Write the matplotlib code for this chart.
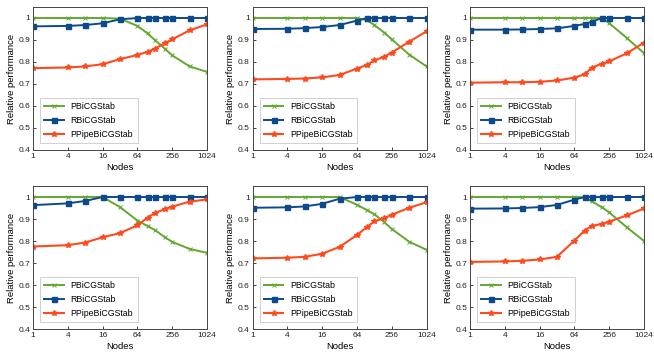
import matplotlib
matplotlib.use("Agg")
import matplotlib.pyplot as plt

plt.rcParams['font.family'] = ['Liberation Sans', 'DejaVu Sans']

nodes = [1, 4, 8, 16, 32, 64, 96, 128, 192, 256, 512, 1024]
xticks = [1, 4, 16, 64, 256, 1024]
xticklabels = ['1', '4', '16', '64', '256', '1024']
yticks = [0.4, 0.5, 0.6, 0.7, 0.8, 0.9, 1.0]
yticklabels = ['0.4', '0.5', '0.6', '0.7', '0.8', '0.9', '1']
labels = ['PBiCGStab', 'RBiCGStab', 'PPipeBiCGStab']

p_green = [
    [1, 1, 1, 1, 0.997, 0.964, 0.93, 0.90, 0.86, 0.83, 0.78, 0.755],
    [1, 1, 1, 1, 1, 1, 0.99, 0.968, 0.933, 0.903, 0.834, 0.78],
    [1, 1, 1, 1, 1, 1, 1, 1, 1, 0.976, 0.91, 0.84],
    [1, 1, 1, 1, 0.954, 0.893, 0.868, 0.85, 0.817, 0.796, 0.764, 0.746],
    [1, 1, 1, 1, 1, 0.965, 0.94, 0.922, 0.885, 0.855, 0.797, 0.76],
    [1, 1, 1, 1, 1, 1, 0.998, 0.98, 0.953, 0.93, 0.863, 0.80],
]
p_blue = [
    [0.962, 0.964, 0.968, 0.976, 0.994, 1, 1, 1, 1, 1, 1, 1],
    [0.95, 0.951, 0.954, 0.959, 0.968, 0.988, 1, 1, 1, 1, 1, 1],
    [0.947, 0.947, 0.948, 0.95, 0.953, 0.964, 0.973, 0.983, 1, 1, 1, 1],
    [0.963, 0.971, 0.982, 1, 1, 1, 1, 1, 1, 1, 1, 1],
    [0.951, 0.953, 0.957, 0.969, 0.992, 1, 1, 1, 1, 1, 1, 1],
    [0.947, 0.948, 0.95, 0.954, 0.964, 0.988, 1, 1, 1, 1, 1, 1],
]
p_red = [
    [0.772, 0.775, 0.78, 0.79, 0.813, 0.832, 0.846, 0.861, 0.885, 0.903, 0.944, 0.971],
    [0.721, 0.723, 0.725, 0.73, 0.741, 0.77, 0.787, 0.807, 0.825, 0.843, 0.892, 0.939],
    [0.706, 0.708, 0.708, 0.71, 0.716, 0.729, 0.744, 0.774, 0.793, 0.803, 0.839, 0.888],
    [0.775, 0.781, 0.793, 0.817, 0.836, 0.871, 0.906, 0.927, 0.945, 0.956, 0.979, 0.989],
    [0.721, 0.724, 0.728, 0.742, 0.773, 0.827, 0.864, 0.889, 0.905, 0.919, 0.951, 0.976],
    [0.705, 0.707, 0.71, 0.716, 0.728, 0.802, 0.847, 0.869, 0.877, 0.888, 0.916, 0.948],
]

green = '#62a830'
blue = '#0c4a8c'
red = '#ff4a1e'

fig = plt.figure(figsize=(6.54, 3.58), dpi=100)
lefts = [33/654, 252.5/654, 470/654]
bottoms = [1 - 150/358, 1 - 329/358]
w = 174/654
h = 143/358

for i in range(6):
    r, c = divmod(i, 3)
    ax = fig.add_axes([lefts[c], bottoms[r], w, h])
    ax.plot(nodes, p_green[i], color=green, marker='x', ms=3.2, mew=0.7, lw=1.4, label=labels[0])
    ax.plot(nodes, p_blue[i], color=blue, marker='s', ms=3.6, lw=1.4, label=labels[1])
    ax.plot(nodes, p_red[i], color=red, marker='*', ms=4.0, lw=1.5, label=labels[2])
    ax.set_xscale('log', base=2)
    ax.set_xlim(1, 1024)
    ax.set_ylim(0.4, 1.05)
    ax.set_xticks(xticks)
    ax.set_xticklabels(xticklabels)
    ax.minorticks_off()
    ax.set_yticks(yticks)
    ax.set_yticklabels(yticklabels)
    ax.tick_params(direction='in', labelsize=6.0, length=2.5, width=0.6, pad=2, colors='#222222')
    for s in ax.spines.values():
        s.set_linewidth(0.7)
        s.set_color('#444444')
    ax.set_xlabel('Nodes', fontsize=6.8, labelpad=2)
    ax.set_ylabel('Relative performance', fontsize=6.8, labelpad=2)
    leg = ax.legend(loc='lower left', fontsize=6.3, frameon=True, fancybox=False,
                    edgecolor='#bbbbbb', borderpad=0.5, handlelength=2.2,
                    labelspacing=0.55, borderaxespad=0.8)
    leg.get_frame().set_linewidth(0.6)

fig.savefig('out.png', dpi=100)
